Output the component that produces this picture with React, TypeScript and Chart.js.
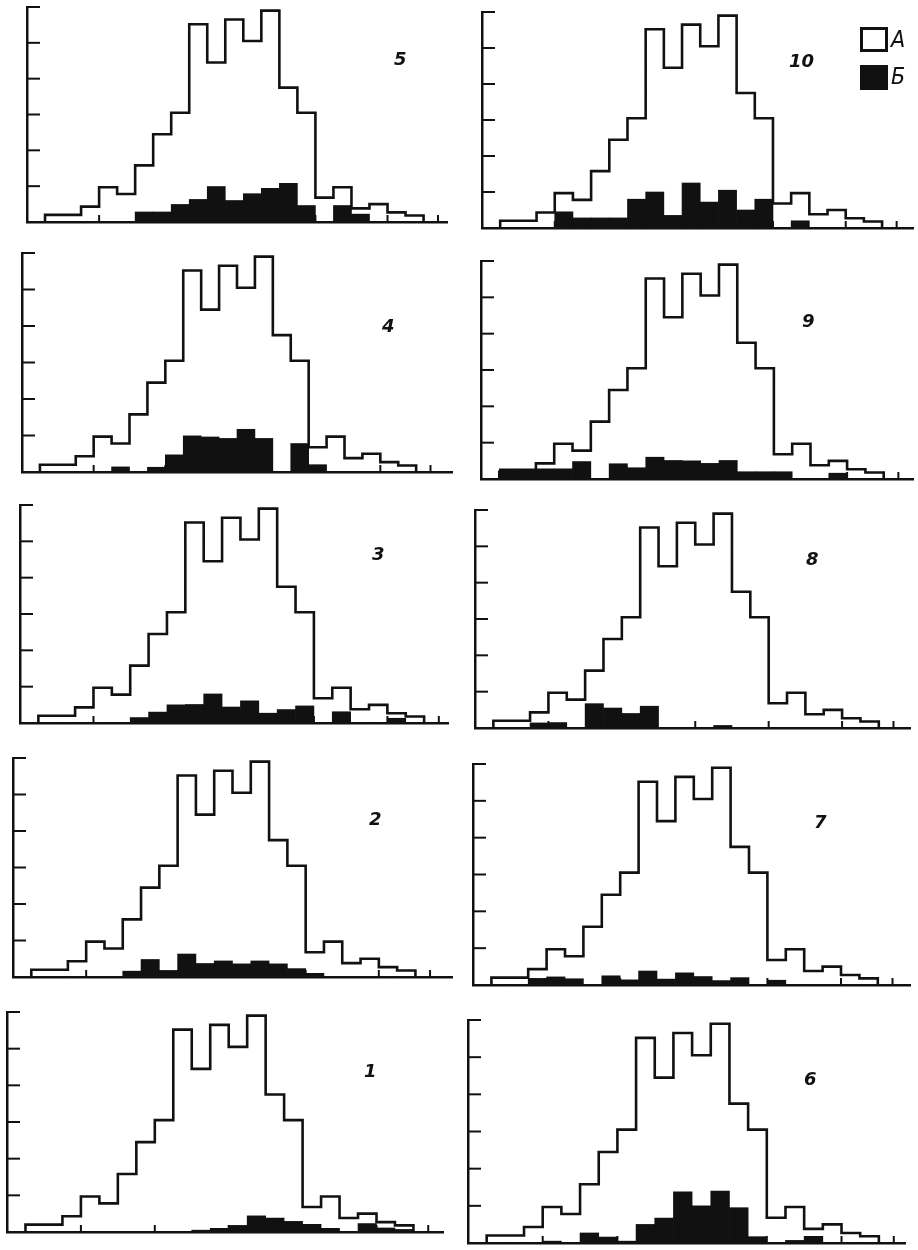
import React, { useEffect, useRef } from 'react';
import { Chart, registerables } from 'chart.js';

Chart.register(...registerables);

// ---- data (21 bins, values in y-tick units) ----
const seriesA = [0.2, 0.2, 0.43, 0.97, 0.78, 1.58, 2.45, 3.05, 5.52, 4.45, 5.65, 5.05, 5.9, 3.75, 3.05, 0.68, 0.97, 0.38, 0.5, 0.27, 0.18];

const seriesB1 = [0, 0, 0, 0, 0, 0, 0, 0, 0, 0.05, 0.1, 0.18, 0.44, 0.38, 0.29, 0.21, 0.1, 0, 0.23, 0.11, 0.07];
const seriesB2 = [0, 0, 0, 0, 0, 0.16, 0.48, 0.18, 0.63, 0.37, 0.44, 0.36, 0.44, 0.36, 0.23, 0.1, 0, 0, 0, 0, 0];
const seriesB3 = [0, 0, 0, 0, 0, 0.15, 0.3, 0.5, 0.51, 0.8, 0.44, 0.61, 0.27, 0.37, 0.47, 0, 0.31, 0, 0, 0.13, 0];
const seriesB4 = [0, 0, 0, 0, 0.14, 0, 0.13, 0.47, 0.99, 0.96, 0.92, 1.17, 0.92, 0, 0.78, 0.2, 0, 0, 0, 0, 0];
const seriesB5 = [0, 0, 0, 0, 0, 0.28, 0.28, 0.49, 0.63, 0.99, 0.6, 0.79, 0.94, 1.08, 0.46, 0, 0.46, 0.22, 0, 0, 0];
const seriesB6 = [0, 0, 0, 0.05, 0, 0.27, 0.16, 0.05, 0.5, 0.67, 1.38, 1.0, 1.4, 0.95, 0.17, 0, 0.07, 0.18, 0, 0, 0];
const seriesB7 = [0, 0, 0.18, 0.22, 0.17, 0, 0.25, 0.14, 0.38, 0.16, 0.33, 0.23, 0.12, 0.2, 0, 0.13, 0, 0, 0, 0, 0];
const seriesB8 = [0, 0, 0.14, 0.15, 0, 0.67, 0.55, 0.4, 0.6, 0, 0, 0, 0.07, 0, 0, 0, 0, 0, 0, 0, 0];
const seriesB9 = [0.28, 0.28, 0.28, 0.28, 0.48, 0, 0.42, 0.31, 0.6, 0.51, 0.5, 0.43, 0.51, 0.2, 0.2, 0.2, 0, 0, 0.16, 0, 0];
const seriesB10 = [0, 0, 0, 0.45, 0.28, 0.28, 0.28, 0.8, 1.0, 0.35, 1.25, 0.72, 1.05, 0.5, 0.8, 0, 0.2, 0, 0, 0, 0];

const yTickValues = [1, 2, 3, 4, 5, 6];
const xTickValues = [4, 8, 12, 16, 20, 22.8];
const legendLabels = ['А', 'Б'];
const firstBinStart = 1; // first bin begins one bin-width right of the y axis

const seriesByPanel: Record<string, number[]> = {
  '1': seriesB1, '2': seriesB2, '3': seriesB3, '4': seriesB4, '5': seriesB5,
  '6': seriesB6, '7': seriesB7, '8': seriesB8, '9': seriesB9, '10': seriesB10,
};

// ---- layout (page pixels) ----
type Geom = { label: string; axisX: number; top: number; base: number; right: number; xMax: number; lx: number; ly: number };
const panels: Geom[] = [
  { label: '5', axisX: 27, top: 7, base: 222, right: 447, xMax: 23.3, lx: 394, ly: 50 },
  { label: '10', axisX: 482, top: 12, base: 228, right: 913, xMax: 23.7, lx: 789, ly: 52 },
  { label: '4', axisX: 22, top: 253, base: 472, right: 452, xMax: 24.0, lx: 382, ly: 317 },
  { label: '9', axisX: 481, top: 261, base: 479, right: 913, xMax: 23.6, lx: 802, ly: 312 },
  { label: '3', axisX: 20, top: 505, base: 723, right: 448, xMax: 23.3, lx: 372, ly: 545 },
  { label: '8', axisX: 475, top: 510, base: 728, right: 910, xMax: 23.7, lx: 806, ly: 550 },
  { label: '2', axisX: 13, top: 758, base: 977, right: 452, xMax: 24.0, lx: 369, ly: 810 },
  { label: '7', axisX: 473, top: 764, base: 985, right: 910, xMax: 23.75, lx: 814, ly: 813 },
  { label: '1', axisX: 7, top: 1012, base: 1232, right: 443, xMax: 23.6, lx: 364, ly: 1062 },
  { label: '6', axisX: 468, top: 1020, base: 1243, right: 905, xMax: 23.4, lx: 804, ly: 1070 },
];

const PAD = 8;
const INK = '#111';

const inwardTicks = {
  id: 'inwardTicks',
  beforeDatasetsDraw(chart: any) {
    const { ctx, chartArea, scales } = chart;
    ctx.save();
    ctx.strokeStyle = INK;
    ctx.lineWidth = 2;
    scales.y.ticks.forEach((t: any) => {
      if (t.value === 0) return;
      const y = scales.y.getPixelForValue(t.value);
      ctx.beginPath();
      ctx.moveTo(chartArea.left, y);
      ctx.lineTo(chartArea.left + 13, y);
      ctx.stroke();
    });
    scales.x.ticks.forEach((t: any) => {
      const x = scales.x.getPixelForValue(t.value);
      ctx.beginPath();
      ctx.moveTo(x, chartArea.bottom);
      ctx.lineTo(x, chartArea.bottom - 7);
      ctx.stroke();
    });
    ctx.restore();
  },
};

function Panel({ g }: { g: Geom }) {
  const ref = useRef<HTMLCanvasElement>(null);
  const w = g.right - g.axisX + 2 * PAD;
  const h = g.base - g.top + 2 * PAD;
  useEffect(() => {
    const b = seriesByPanel[g.label];
    const lineData = [
      { x: firstBinStart, y: 0 },
      ...seriesA.map((v, i) => ({ x: firstBinStart + i, y: v })),
      { x: firstBinStart + seriesA.length, y: 0 },
    ];
    const barData = b.map((v, i) => ({ x: firstBinStart + i + 0.5, y: v }));
    const chart = new Chart(ref.current as HTMLCanvasElement, {
      type: 'bar',
      data: {
        datasets: [
          {
            type: 'line',
            label: legendLabels[0],
            data: lineData as any,
            stepped: 'before',
            borderColor: INK,
            borderWidth: 2.6,
            pointRadius: 0,
            fill: false,
            order: 0,
            clip: false,
          } as any,
          {
            type: 'bar',
            label: legendLabels[1],
            data: barData as any,
            backgroundColor: INK,
            borderWidth: 0,
            barPercentage: 1,
            categoryPercentage: 1,
            order: 1,
          } as any,
        ],
      },
      options: {
        animation: false,
        responsive: false,
        layout: { padding: PAD },
        plugins: { legend: { display: false }, tooltip: { enabled: false } },
        scales: {
          x: {
            type: 'linear',
            min: 0,
            max: g.xMax,
            offset: false,
            grid: { display: false, drawTicks: false, offset: false },
            border: { display: true, color: INK, width: 2.5 },
            ticks: { display: false },
            afterBuildTicks: (s: any) => {
              s.ticks = xTickValues.map((v) => ({ value: v }));
            },
          },
          y: {
            type: 'linear',
            min: 0,
            max: 6,
            grid: { display: false, drawTicks: false },
            border: { display: true, color: INK, width: 2.5 },
            ticks: { display: false },
            afterBuildTicks: (s: any) => {
              s.ticks = yTickValues.map((v) => ({ value: v }));
            },
          },
        },
      } as any,
      plugins: [inwardTicks],
    });
    return () => chart.destroy();
  }, [g]);
  return (
    <>
      <canvas
        ref={ref}
        width={w}
        height={h}
        style={{ position: 'absolute', left: g.axisX - PAD, top: g.top - PAD, width: w, height: h }}
      />
      <div
        style={{
          position: 'absolute',
          left: g.lx,
          top: g.ly,
          fontFamily: "'DejaVu Sans', sans-serif",
          fontStyle: 'italic',
          fontWeight: 600,
          fontSize: 18,
          lineHeight: 1,
          color: INK,
        }}
      >
        {g.label}
      </div>
    </>
  );
}

function Legend() {
  const box = (filled: boolean): React.CSSProperties => ({
    position: 'absolute',
    left: 0,
    width: 22,
    height: 19,
    border: `3px solid ${INK}`,
    background: filled ? INK : '#fff',
  });
  const text: React.CSSProperties = {
    position: 'absolute',
    left: 31,
    fontFamily: "'DejaVu Sans Condensed', 'Liberation Sans Narrow', 'DejaVu Sans', sans-serif",
    fontStretch: 'condensed',
    fontStyle: 'italic',
    fontSize: 23,
    lineHeight: 1,
    color: INK,
  };
  return (
    <div style={{ position: 'absolute', left: 860, top: 27, width: 58, height: 70 }}>
      <div style={{ ...box(false), top: 0 }} />
      <div style={{ ...text, top: 1 }}>{legendLabels[0]}</div>
      <div style={{ ...box(true), top: 38 }} />
      <div style={{ ...text, top: 38 }}>{legendLabels[1]}</div>
    </div>
  );
}

export default function App() {
  return (
    <div style={{ position: 'absolute', left: 0, top: 0, width: 918, height: 1250, background: '#fff', overflow: 'hidden' }}>
      {panels.map((g) => (
        <Panel key={g.label} g={g} />
      ))}
      <Legend />
    </div>
  );
}
